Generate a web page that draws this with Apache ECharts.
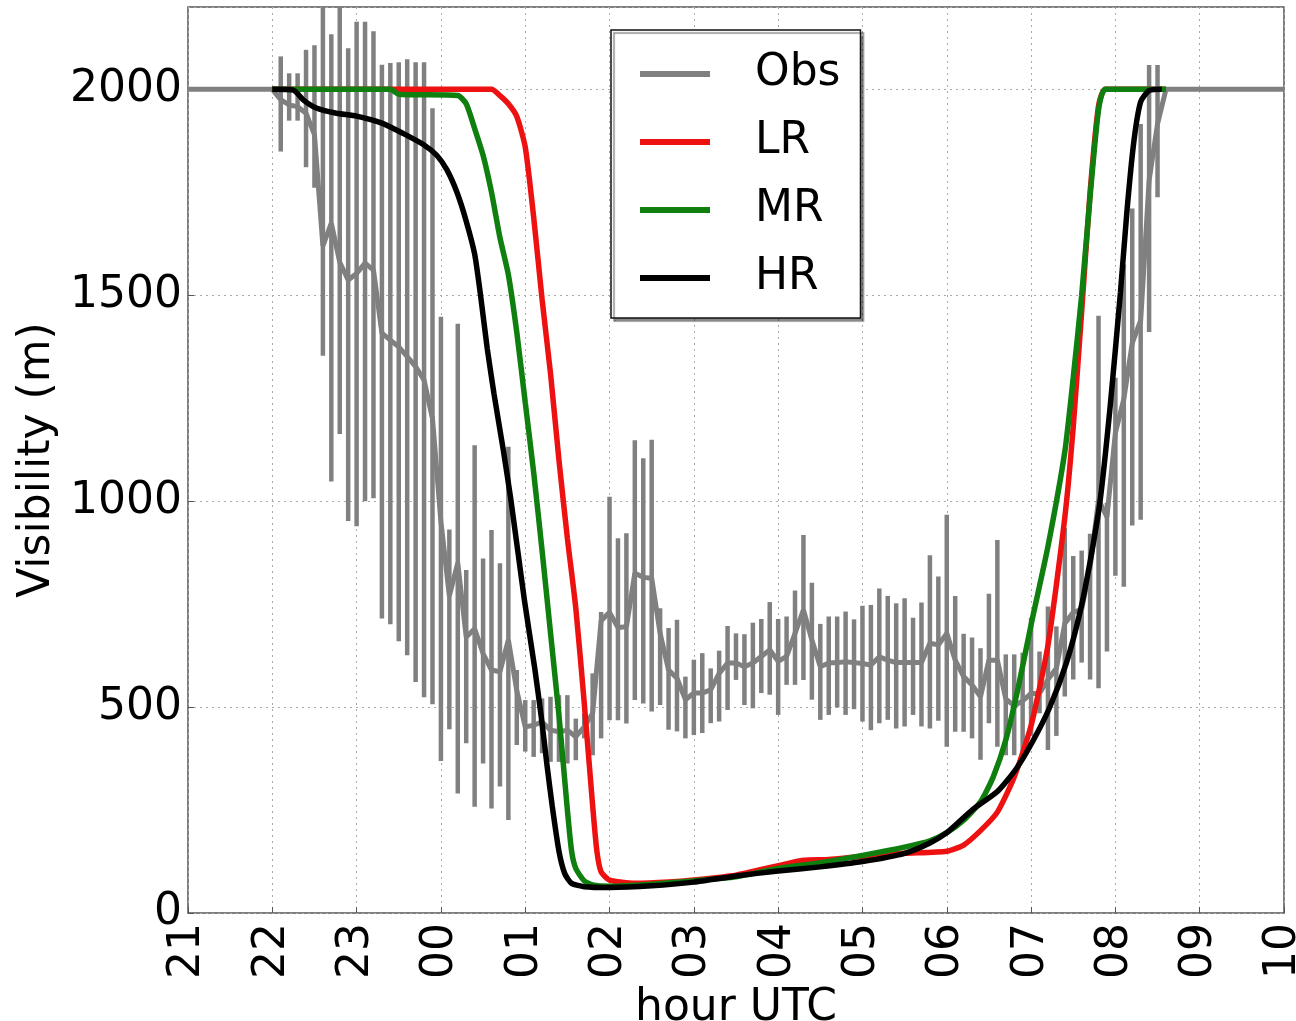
<!DOCTYPE html>
<html>
<head>
<meta charset="utf-8">
<script src="https://cdn.jsdelivr.net/npm/echarts@6/dist/echarts.min.js"></script>
<style>
  html, body { margin: 0; padding: 0; background: #fff; }
  #chart { width: 1296px; height: 1021px; }
</style>
</head>
<body>
<div id="chart"></div>
<script>
// hours counted on from 21 UTC (24 = 00 UTC, 34 = 10 UTC)
var obsHour = [21.0, 22.0,
  22.1, 22.2, 22.3, 22.4, 22.5, 22.6, 22.7, 22.8, 22.9, 23.0,
  23.1, 23.2, 23.3, 23.4, 23.5, 23.6, 23.7, 23.8, 23.9, 24.0,
  24.1, 24.2, 24.3, 24.4, 24.5, 24.6, 24.7, 24.8, 24.9, 25.0,
  25.1, 25.2, 25.3, 25.4, 25.5, 25.6, 25.7, 25.8, 25.9, 26.0,
  26.1, 26.2, 26.3, 26.4, 26.5, 26.6, 26.7, 26.8, 26.9, 27.0,
  27.1, 27.2, 27.3, 27.4, 27.5, 27.6, 27.7, 27.8, 27.9, 28.0,
  28.1, 28.2, 28.3, 28.4, 28.5, 28.6, 28.7, 28.8, 28.9, 29.0,
  29.1, 29.2, 29.3, 29.4, 29.5, 29.6, 29.7, 29.8, 29.9, 30.0,
  30.1, 30.2, 30.3, 30.4, 30.5, 30.6, 30.7, 30.8, 30.9, 31.0,
  31.1, 31.2, 31.3, 31.4, 31.5, 31.6, 31.7, 31.8, 31.9, 32.0,
  32.1, 32.2, 32.3, 32.4, 32.5,
  32.6, 34.0];
var obsMean = [2000, 2000,
  1975, 1962, 1958, 1942, 1890, 1620, 1675, 1580, 1537, 1553,
  1578, 1561, 1408, 1391, 1375, 1351, 1327, 1294, 1200, 950,
  770, 850, 670, 690, 630, 590, 586, 663, 540, 452,
  456, 464, 444, 440, 444, 428, 452, 485, 710, 730,
  693, 695, 825, 815, 813, 679, 590, 570, 518, 534,
  534, 542, 582, 607, 607, 598, 607, 623, 639, 611,
  623, 679, 736, 663, 598, 607, 608, 610, 608, 606,
  602, 622, 614, 608, 608, 608, 608, 655, 651, 679,
  614, 574, 554, 525, 614, 614, 520, 503, 515, 533,
  533, 567, 594, 703, 730, 737, 839, 1003, 962, 1166,
  1248, 1384, 1439, 1779, 1916,
  2000, 2000];
var obsLow = [null, null,
  1849, 1924, 1924, 1811, 1761, 1353, 1048, 1163, 952, 939,
  1000, 1007, 715, 701, 660, 626, 561, 524, 507, 369,
  446, 290, 412, 258, 363, 254, 307, 226, 408, 392,
  379, 388, 367, 367, 363, 371, 424, 383, 424, 468,
  468, 460, 517, 509, 489, 505, 445, 441, 424, 432,
  437, 461, 465, 493, 566, 505, 497, 534, 530, 481,
  554, 554, 566, 518, 469, 481, 499, 481, 495, 465,
  444, 461, 469, 448, 453, 481, 453, 448, 467, 404,
  440, 440, 424, 372, 461, 404, 383, 383, 380, 430,
  485, 396, 430, 526, 567, 608, 567, 546, 635, 819,
  792, 941, 955, 1411, 1738,
  null, null];
var obsHigh = [null, null,
  2080, 2039, 2039, 2096, 2107, 2230, 2134, 2230, 2100, 2164,
  2164, 2141, 2060, 2064, 2066, 2073, 2066, 2066, 1954, 1448,
  931, 1431, 833, 1136, 861, 930, 849, 1132, 590, 517,
  517, 521, 525, 529, 529, 472, 485, 582, 731, 1011,
  910, 922, 1148, 1104, 1149, 740, 692, 712, 574, 615,
  631, 594, 637, 697, 679, 677, 705, 714, 755, 714,
  720, 783, 918, 802, 702, 720, 720, 732, 713, 746,
  748, 788, 770, 752, 764, 717, 754, 869, 817, 967,
  770, 678, 669, 643, 775, 906, 628, 628, 632, 717,
  635, 744, 696, 935, 867, 880, 921, 1450, 996, 1300,
  1575, 1711, 1916, 2059, 2059,
  null, null];

var lrHour = [22.0, 24.6, 24.7, 24.8, 24.9, 25.0, 25.1, 25.2, 25.3, 25.4,
  25.5, 25.6, 25.7, 25.8, 25.85, 25.9, 26.0, 26.3, 26.7, 27.0,
  27.5, 28.0, 28.3, 28.6, 29.0, 29.5, 30.0, 30.2, 30.4, 30.6,
  30.8, 31.0, 31.2, 31.4, 31.5, 31.6, 31.7, 31.8, 31.88, 32.6];
var lrVis = [2000, 2000, 1985, 1965, 1934, 1860, 1690, 1490, 1310, 1100,
  910, 740, 510, 260, 150, 100, 80, 72, 75, 80,
  92, 115, 128, 130, 138, 145, 150, 165, 200, 245,
  330, 455, 650, 960, 1180, 1460, 1750, 1960, 2000, 2000];

var mrHour = [22.0, 23.4, 23.5, 24.2, 24.3, 24.4, 24.5, 24.6, 24.7, 24.8,
  24.9, 25.0, 25.1, 25.2, 25.3, 25.4, 25.5, 25.55, 25.6, 25.7,
  25.8, 26.0, 26.5, 27.0, 27.5, 28.0, 28.5, 29.0, 29.5, 29.8,
  30.0, 30.2, 30.4, 30.55, 30.7, 30.85, 31.0, 31.2, 31.4, 31.5,
  31.6, 31.7, 31.8, 31.88, 32.6];
var mrVis = [2000, 2000, 1988, 1985, 1965, 1905, 1840, 1750, 1640, 1550,
  1410, 1240, 1070, 880, 680, 480, 250, 150, 108, 78,
  68, 65, 70, 78, 88, 108, 122, 140, 160, 175,
  195, 225, 270, 330, 420, 550, 700, 890, 1120, 1300,
  1500, 1740, 1950, 2000, 2000];

var hrHour = [22.0, 22.25, 22.37, 22.53, 22.76, 23.0, 23.3, 23.55, 23.8, 23.95,
  24.07, 24.19, 24.3, 24.4, 24.47, 24.55, 24.63, 24.74, 24.83, 24.99,
  25.11, 25.19, 25.26, 25.32, 25.4, 25.47, 25.55, 25.7, 26.0, 26.5,
  27.0, 27.5, 28.0, 28.5, 29.0, 29.5, 29.8, 30.0, 30.3, 30.6,
  30.82, 31.02, 31.22, 31.42, 31.58, 31.7, 31.82, 31.94, 32.06, 32.14,
  32.22, 32.3, 32.4, 32.55];
var hrVis = [2000, 1998, 1974, 1954, 1942, 1935, 1918, 1893, 1865, 1840,
  1805, 1750, 1680, 1600, 1500, 1370, 1260, 1124, 1003, 760,
  598, 477, 356, 260, 150, 95, 72, 64, 62, 66,
  75, 90, 102, 112, 125, 145, 170, 195, 250, 295,
  349, 417, 499, 608, 730, 853, 1003, 1234, 1507, 1711,
  1875, 1970, 1997, 2000];

var yTicks = [0, 500, 1000, 1500, 2000];

function pairs(xs, ys) {
  return xs.map(function (x, i) { return [x, ys[i]]; });
}

var errData = [];
obsHour.forEach(function (h, i) {
  if (obsLow[i] != null) errData.push([h, obsLow[i], obsHigh[i]]);
});

var font = 'DejaVu Sans';
var chart = echarts.init(document.getElementById('chart'));

chart.setOption({
  animation: false,
  textStyle: { fontFamily: font },
  grid: {
    left: 188, right: 12, top: 7, bottom: 108,
    show: true, borderColor: '#555', borderWidth: 1.5,
    outerBoundsMode: 'none'
  },
  legend: {
    data: [
      { name: 'Obs', icon: 'rect' },
      { name: 'LR', icon: 'rect' },
      { name: 'MR', icon: 'rect' },
      { name: 'HR', icon: 'rect' }
    ],
    orient: 'vertical',
    left: 611, top: 30,
    padding: [19, 20, 15, 29],
    itemWidth: 70, itemHeight: 6, itemGap: 18,
    backgroundColor: '#fff',
    borderColor: '#111', borderWidth: 1.5, borderRadius: 0,
    shadowColor: 'rgba(0,0,0,0.45)', shadowOffsetX: 3, shadowOffsetY: 3, shadowBlur: 1,
    textStyle: { fontSize: 44, color: '#000', fontFamily: font, lineHeight: 50, padding: [0, 0, 0, 40] },
    selectedMode: false
  },
  xAxis: {
    type: 'value', min: 21, max: 34, interval: 1,
    name: 'hour UTC', nameLocation: 'middle', nameGap: 64,
    nameTextStyle: { fontSize: 44, color: '#000', fontFamily: font },
    axisLine: { show: false },
    axisTick: { inside: true, length: 6, lineStyle: { color: '#555' } },
    axisLabel: {
      rotate: 90, fontSize: 44, color: '#000', margin: 10,
      showMinLabel: true, showMaxLabel: true,
      formatter: function (v) { return String(v % 24).padStart(2, '0'); }
    },
    splitLine: { show: true, lineStyle: { color: '#aaa', type: [2, 4], width: 1 } }
  },
  yAxis: {
    type: 'value', min: 0, max: 2200, interval: 500,
    name: 'Visibility (m)', nameLocation: 'middle', nameGap: 124,
    nameTextStyle: { fontSize: 44, color: '#000', fontFamily: font },
    axisLine: { show: false },
    axisTick: { inside: true, length: 6, lineStyle: { color: '#555' } },
    axisLabel: {
      fontSize: 44, color: '#000', margin: 6, showMaxLabel: false,
      formatter: function (v) { return yTicks.indexOf(v) >= 0 ? String(v) : ''; }
    },
    splitLine: { show: true, lineStyle: { color: '#aaa', type: [2, 4], width: 1 } }
  },
  series: [
    {
      name: 'ObsErr', type: 'custom', clip: true, z: 2,
      data: errData,
      encode: { x: 0, y: [1, 2] },
      renderItem: function (params, api) {
        var p0 = api.coord([api.value(0), api.value(1)]);
        var p1 = api.coord([api.value(0), api.value(2)]);
        return {
          type: 'line',
          shape: { x1: p0[0], y1: p0[1], x2: p1[0], y2: p1[1] },
          style: { stroke: '#808080', lineWidth: 4.5 }
        };
      }
    },
    {
      name: 'Obs', type: 'line', z: 3, showSymbol: false, smooth: false,
      data: pairs(obsHour, obsMean),
      lineStyle: { color: '#808080', width: 5 },
      itemStyle: { color: '#808080' }
    },
    {
      name: 'LR', type: 'line', z: 4, showSymbol: false, smooth: 0.2,
      data: pairs(lrHour, lrVis),
      lineStyle: { color: '#ee1111', width: 5.5 },
      itemStyle: { color: '#ee1111' }
    },
    {
      name: 'MR', type: 'line', z: 5, showSymbol: false, smooth: 0.2,
      data: pairs(mrHour, mrVis),
      lineStyle: { color: '#0f7f0f', width: 5.5 },
      itemStyle: { color: '#0f7f0f' }
    },
    {
      name: 'HR', type: 'line', z: 6, showSymbol: false, smooth: 0.2,
      data: pairs(hrHour, hrVis),
      lineStyle: { color: '#000', width: 5.5 },
      itemStyle: { color: '#000' }
    }
  ]
});
</script>
</body>
</html>
